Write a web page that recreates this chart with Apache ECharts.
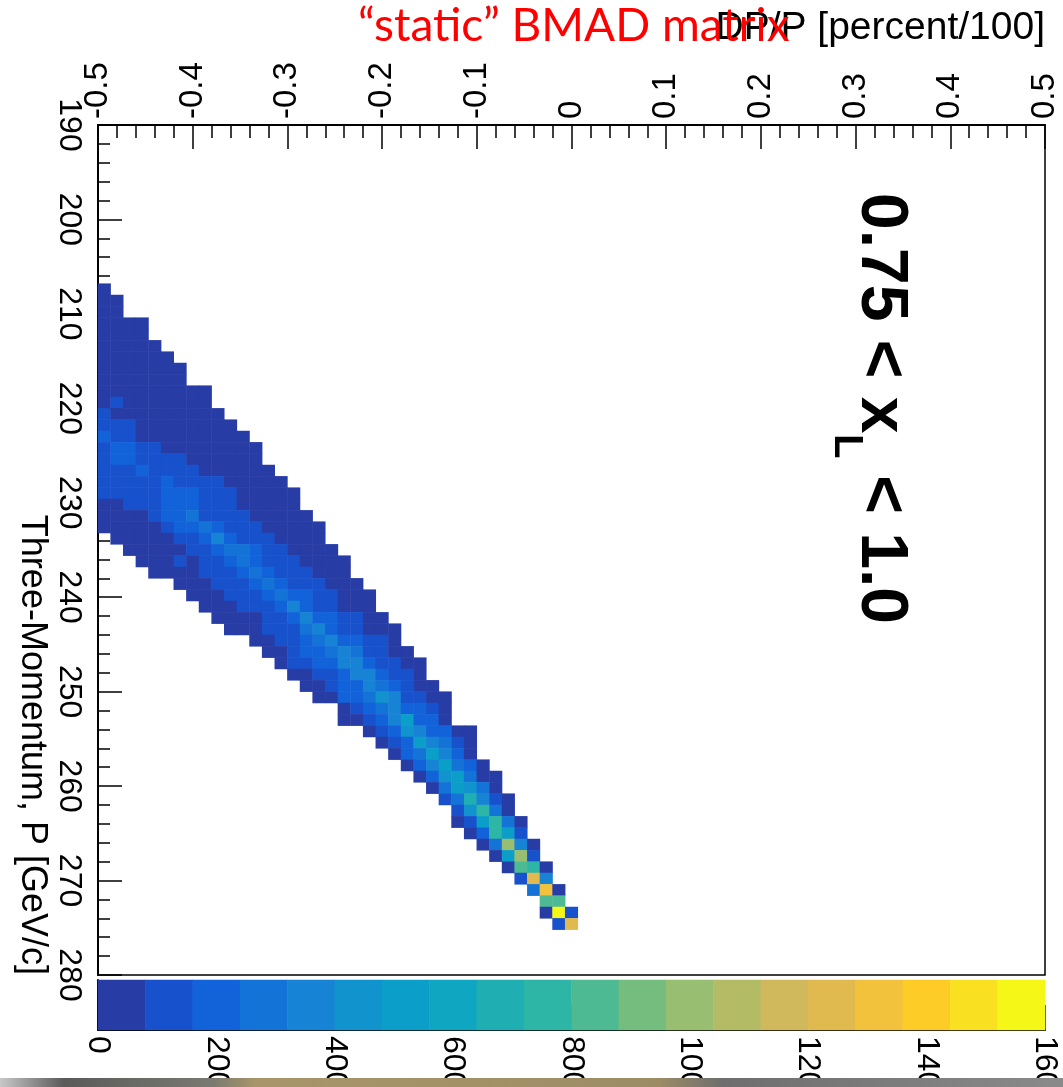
<!DOCTYPE html>
<html><head><meta charset="utf-8">
<script src="https://cdn.jsdelivr.net/npm/echarts@6/dist/echarts.min.js"></script>
<style>html,body{margin:0;padding:0;background:#fff}#c{width:1063px;height:1087px}</style>
</head><body><div id="c"></div>
<script>
// ---- axis ticks ----
const xTicks = [-0.5, -0.4, -0.3, -0.2, -0.1, 0, 0.1, 0.2, 0.3, 0.4, 0.5];
const yTicks = [190, 200, 210, 220, 230, 240, 250, 260, 270, 280];
const zTicks = [0, 200, 400, 600, 800, 1000, 1200, 1400, 1600];
const xBinCount = 75;   // DP/P bins
const yBinCount = 75;   // P bins (1.2 GeV/c)

// ---- palette (colour bar bands, 80 counts each) ----
const paletteColors = ['#283ca6','#1851cc','#1262da','#1473d6','#1683d4','#1193cd','#0a9ec9','#0ea6c0','#1fafb3','#2db5a6',
  '#4eba93','#74bd7f','#98be71','#b3bc65','#cfb95c','#e1ba4f','#f2c23c','#fdcc27','#f9e121','#f5f817'];
const paletteLevels = [40,120,200,280,360,440,520,600,680,760,840,920,1000,1080,1160,1240,1320,1400,1480,1560];

// ---- histogram contents: row index = P bin, firstCol = first non-empty DP/P bin ----
const rowStart = 14;
const firstCol = [0,0,0,0,0,0,0,0,0,0,0,0,0,0,0,0,0,0,0,0,0,0,
  1,2,3,4,6,7,8,9,10,12,13,14,15,16,17,19,19,21,22,23,24,25,26,27,28,28,29,30,31,32,33,34,35,35,36];
const rowValues = [
  [22],
  [31,18],
  [45,26],
  [52,40,21,9],
  [58,47,33,14],
  [61,55,42,25,8],
  [66,60,51,36,19,6],
  [70,66,58,45,30,15,5],
  [74,71,63,52,38,22,9],
  [77,75,68,60,47,33,20,10,4],
  [79,96,74,66,55,41,28,15,6],
  [104,78,76,70,62,50,36,23,12,5],
  [118,112,98,77,72,64,53,40,27,14,6],
  [176,138,121,79,76,70,61,49,35,22,11,4],
  [142,186,171,117,92,78,72,63,50,36,22,10,4],
  [131,193,182,140,121,104,88,76,64,49,33,18,7],
  [124,150,139,175,148,133,115,96,74,60,44,29,14,5],
  [108,127,136,145,152,168,147,130,112,91,72,52,33,17,6],
  [95,110,124,141,150,162,181,190,154,133,100,70,48,28,13,4],
  [71,78,102,125,144,172,205,218,150,138,109,66,44,27,12,4],
  [52,63,70,77,112,170,214,262,155,140,118,94,66,40,21,9,3],
  [38,49,58,68,76,131,190,224,255,196,149,120,96,70,44,24,11,4],
  [35,47,60,72,78,108,151,210,338,221,152,126,98,73,45,22,8],
  [30,43,57,69,77,106,142,198,270,288,206,141,104,72,44,20,7],
  [28,46,63,84,66,113,129,188,263,229,158,123,97,70,42,19,6],
  [25,42,61,74,98,125,140,201,276,212,152,121,90,62,34,12],
  [31,50,69,93,118,139,196,282,219,156,122,88,61,33,11],
  [27,46,65,90,117,141,222,305,226,163,130,101,74,50,24],
  [29,52,71,96,128,152,231,352,219,154,118,79,52,25],
  [26,48,66,78,104,139,225,366,236,160,124,95,58,27],
  [24,45,70,102,131,150,262,371,229,158,121,72,48,24],
  [38,66,109,146,214,287,364,233,196,137,104,46],
  [34,63,115,190,227,298,373,255,146,112,61,30],
  [41,108,150,199,236,357,389,204,143,101,57,26],
  [36,67,112,147,218,381,372,226,148,97,38],
  [33,70,125,208,232,368,301,209,117,58,24],
  [29,62,187,226,293,452,346,134,96,47,20],
  [55,138,221,306,385,236,181,103,35],
  [28,64,129,218,372,516,231,168,42],
  [47,133,224,459,394,212,165,61,22],
  [51,140,233,533,378,289,126,40],
  [58,205,297,546,383,195,44],
  [62,211,376,551,302,184,37],
  [66,219,463,542,285,71,28],
  [70,301,557,472,266,49],
  [112,294,668,352,128,54],
  [118,457,741,291,63],
  [58,136,528,753,287,41],
  [62,216,768,534,124],
  [55,296,1004,377,46],
  [60,522,1017,132],
  [57,846,781,43],
  [139,1236,362],
  [263,1318,52],
  [829,851],
  [49,1571,126],
  [131,1247]
];

// ---- build series data ----
const cells = [];
rowValues.forEach((vals, k) => {
  vals.forEach((v, c) => cells.push([firstCol[k] + c, rowStart + k, v]));
});
const barCells = paletteLevels.map((v, i) => [i, 0, v]);
const step = zTicks[zTicks.length - 1] / paletteColors.length;
const pieces = paletteColors.map((col, i) => ({ gte: i * step, lt: (i + 1) * step, color: col }));
const idx = n => Array.from({ length: n }, (_, i) => i);

const FONT = 'Liberation Sans, Arial, sans-serif';
const axisBlack = { color: '#000', width: 2 };
const tickBlack = { color: '#000', width: 1.5 };
const plain = v => String(+v.toFixed(3));

const chart = echarts.init(document.getElementById('c'), null, { renderer: 'canvas' });
chart.setOption({
  animation: false,
  backgroundColor: '#fff',
  grid: [
    { left: 98, top: 125, width: 947, height: 850, show: true, borderColor: '#000', borderWidth: 1.5, backgroundColor: 'transparent', containLabel: false, outerBoundsMode: 'none' },
    { left: 98, top: 980, width: 947, height: 50, show: false, containLabel: false, outerBoundsMode: 'none' }
  ],
  xAxis: [
    { type: 'value', gridIndex: 0, position: 'top', min: xTicks[0], max: xTicks[xTicks.length - 1],
      interval: +(xTicks[1] - xTicks[0]).toFixed(3),
      axisLine: { show: true, onZero: false, lineStyle: axisBlack },
      axisTick: { show: true, inside: true, length: 24, lineStyle: tickBlack },
      minorTick: { show: true, splitNumber: 5, length: 13, lineStyle: tickBlack },
      splitLine: { show: false },
      axisLabel: { rotate: -90, fontSize: 33, fontFamily: FONT, color: '#000', margin: 6, showMinLabel: true, showMaxLabel: true, formatter: plain } },
    { type: 'category', gridIndex: 0, position: 'bottom', data: idx(xBinCount), show: false, axisLine: { onZero: false } },
    { type: 'value', gridIndex: 1, position: 'bottom', min: zTicks[0], max: zTicks[zTicks.length - 1], interval: zTicks[1] - zTicks[0],
      axisLine: { show: true, onZero: false, lineStyle: axisBlack },
      axisTick: { show: true, inside: true, length: 25, lineStyle: tickBlack },
      splitLine: { show: false },
      axisLabel: { rotate: -90, fontSize: 32, fontFamily: FONT, color: '#000', margin: 6, showMinLabel: true, showMaxLabel: true, formatter: plain } },
    { type: 'category', gridIndex: 1, position: 'top', data: idx(paletteColors.length), show: false, axisLine: { onZero: false } }
  ],
  yAxis: [
    { type: 'value', gridIndex: 0, position: 'left', inverse: true, min: yTicks[0], max: yTicks[yTicks.length - 1], interval: yTicks[1] - yTicks[0],
      axisLine: { show: true, onZero: false, lineStyle: axisBlack },
      axisTick: { show: true, inside: true, length: 24, lineStyle: tickBlack },
      minorTick: { show: true, splitNumber: 5, length: 12, lineStyle: tickBlack },
      splitLine: { show: false },
      axisLabel: { rotate: -90, fontSize: 32, fontFamily: FONT, color: '#000', margin: 13, showMinLabel: true, showMaxLabel: true, formatter: plain } },
    { type: 'category', gridIndex: 0, position: 'right', inverse: true, data: idx(yBinCount), show: false, axisLine: { onZero: false } },
    { type: 'category', gridIndex: 1, position: 'left', data: [0], axisLine: { show: true, onZero: false, lineStyle: axisBlack },
      axisTick: { show: false }, axisLabel: { show: false } }
  ],
  visualMap: { type: 'piecewise', show: false, dimension: 2, seriesIndex: [0, 1], pieces: pieces },
  series: [
    { type: 'heatmap', xAxisIndex: 1, yAxisIndex: 1, data: cells, itemStyle: { borderWidth: 0 }, emphasis: { disabled: true }, progressive: 0 },
    { type: 'heatmap', xAxisIndex: 3, yAxisIndex: 2, data: barCells, itemStyle: { borderWidth: 0 }, emphasis: { disabled: true } }
  ],
  graphic: [
    { type: 'text', x: 1045, y: 28, z: 10, style: { text: 'DP/P [percent/100]', font: '39px ' + FONT, fill: '#000', align: 'right', textAlign: 'right', verticalAlign: 'middle', textVerticalAlign: 'middle' } },
    { type: 'text', x: 358, y: 26, z: 11, style: { text: '\u201Cstatic\u201D BMAD matrix', font: '46px Lato, sans-serif', fill: '#ff0000', align: 'left', textAlign: 'left', verticalAlign: 'middle', textVerticalAlign: 'middle' } },
    { type: 'text', x: 32, y: 975, rotation: -Math.PI / 2, z: 10, style: { text: 'Three-Momentum, P [GeV/c]', font: '36px ' + FONT, fill: '#000', align: 'right', textAlign: 'right', verticalAlign: 'middle', textVerticalAlign: 'middle' } },
    { type: 'text', x: 880, y: 193, rotation: -Math.PI / 2, z: 10, style: { text: '0.75 < x', font: 'bold 66px ' + FONT, fill: '#000', align: 'left', textAlign: 'left', verticalAlign: 'middle', textVerticalAlign: 'middle' } },
    { type: 'text', x: 846, y: 434, rotation: -Math.PI / 2, z: 10, style: { text: 'L', font: 'bold 40px ' + FONT, fill: '#000', align: 'left', textAlign: 'left', verticalAlign: 'middle', textVerticalAlign: 'middle' } },
    { type: 'text', x: 880, y: 457, rotation: -Math.PI / 2, z: 10, style: { text: ' < 1.0', font: 'bold 66px ' + FONT, fill: '#000', align: 'left', textAlign: 'left', verticalAlign: 'middle', textVerticalAlign: 'middle' } },
    { type: 'rect', z: 20, shape: { x: 0, y: 1078, width: 1063, height: 9 },
      style: { fill: new echarts.graphic.LinearGradient(0, 0, 1, 0, [
        { offset: 0, color: '#c8c8c8' }, { offset: 0.06, color: '#5a5a5a' }, { offset: 0.2, color: '#7a7a72' },
        { offset: 0.24, color: '#a8956a' }, { offset: 0.62, color: '#9c8c66' }, { offset: 0.68, color: '#6e6e6e' },
        { offset: 1, color: '#8a8a8a' }]) } }
  ]
});
</script></body></html>
